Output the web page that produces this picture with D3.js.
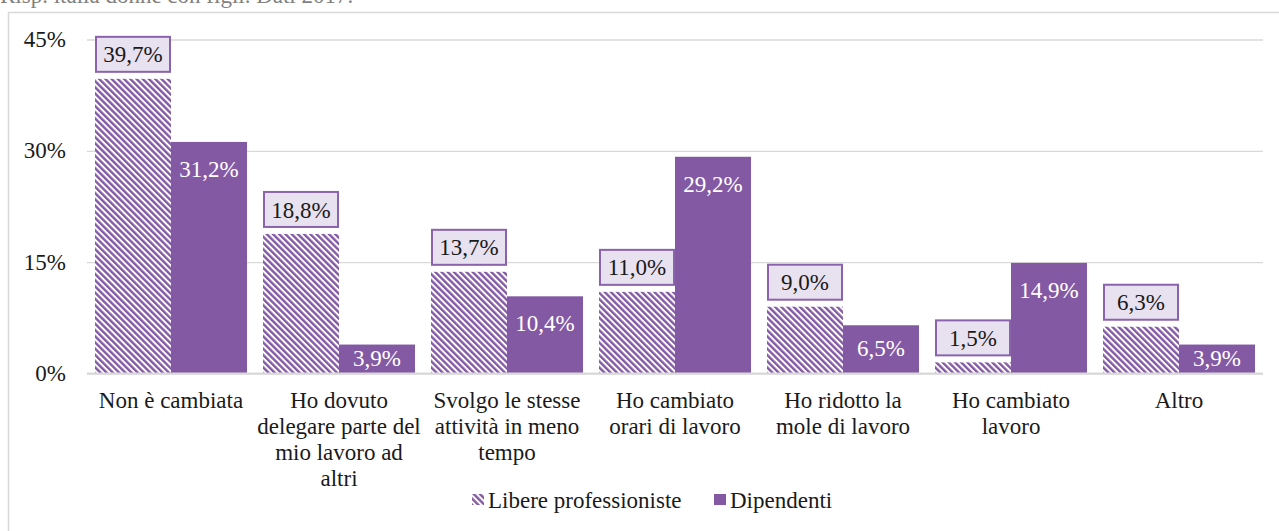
<!DOCTYPE html>
<html>
<head>
<meta charset="utf-8">
<script src="https://cdn.jsdelivr.net/npm/d3@7"></script>
</head>
<body style="margin:0">
<script>
// Data

const categories = [
  ["Non è cambiata"],
  ["Ho dovuto", "delegare parte del", "mio lavoro ad", "altri"],
  ["Svolgo le stesse", "attività in meno", "tempo"],
  ["Ho cambiato", "orari di lavoro"],
  ["Ho ridotto la", "mole di lavoro"],
  ["Ho cambiato", "lavoro"],
  ["Altro"],
];
const seriesNames = ["Libere professioniste", "Dipendenti"];
const libere = [39.7, 18.8, 13.7, 11.0, 9.0, 1.5, 6.3];
const dipendenti = [31.2, 3.9, 10.4, 29.2, 6.5, 14.9, 3.9];
const yTicks = [0, 15, 30, 45];
const titleText = "Risp. italia donne con figli. Dati 2017.";

// Core chart

const width = 1279;
const height = 531;
const margin = { top: 39.5, bottom: 157.5, left: 87, right: 16 };
const purple = "#8459a4";
const fontSize = 23;
const serifFont = (sel) => sel.style("font-family", `"Liberation Serif"`);

const it = d3.formatLocale({ decimal: ",", thousands: ".", grouping: [3], currency: ["", "€"] });
const fmt = (v) => it.format(".1f")(v) + "%";

const svg = d3
  .select("body")
  .append("svg")
  .attr("width", width)
  .attr("height", height)
  .attr("font-family", "Liberation Serif");

const defs = svg.append("defs");
const pattern = defs
  .append("pattern")
  .attr("id", "stripes")
  .attr("patternUnits", "userSpaceOnUse")
  .attr("width", 4.4)
  .attr("height", 4.4)
  .attr("patternTransform", "rotate(-45)");
pattern.append("rect").attr("width", 4.4).attr("height", 4.4).attr("fill", "#fff");
pattern.append("rect").attr("width", 2.4).attr("height", 4.4).attr("fill", purple);

// title (cut at the top in the source) and frame
svg
  .append("text")
  .attr("x", 0)
  .attr("y", 3)
  .attr("font-size", fontSize)
  .attr("fill", "#7f7f7f")
  .call(serifFont)
  .text(titleText);

svg
  .append("rect")
  .attr("x", 8.5)
  .attr("y", 12.5)
  .attr("width", 1300)
  .attr("height", 600)
  .attr("fill", "none")
  .attr("stroke", "#d9d9d9")
  .attr("stroke-width", 1.5);

const xScale = d3
  .scaleBand()
  .domain(d3.range(categories.length))
  .range([margin.left, width - margin.right]);

const xInner = d3
  .scaleBand()
  .domain(seriesNames)
  .range([8, xScale.bandwidth() - 8]);

const yScale = d3
  .scaleLinear()
  .domain([0, 45])
  .range([height - margin.bottom, margin.top]);

// gridlines + y axis
const yAxis = svg
  .append("g")
  .attr("transform", `translate(${margin.left}, 0)`)
  .call(
    d3
      .axisLeft(yScale)
      .tickValues(yTicks)
      .tickFormat((d) => d + "%")
      .tickSize(-(width - margin.left - margin.right))
      .tickPadding(21)
  );
yAxis.attr("font-family", "Liberation Serif").attr("font-size", fontSize);
yAxis.select(".domain").remove();
yAxis.selectAll("line").attr("stroke", "#d9d9d9").attr("stroke-width", 1.3);
yAxis
  .selectAll("text")
  .attr("fill", "#1a1a1a")
  .attr("dy", "0.3em")
  .call(serifFont);

const groups = svg
  .selectAll(".cat")
  .data(categories.map((c, i) => ({ i, lib: libere[i], dip: dipendenti[i] })))
  .enter()
  .append("g")
  .attr("transform", (d) => `translate(${xScale(d.i)}, 0)`);

// Libere professioniste bars
groups
  .append("rect")
  .attr("x", xInner(seriesNames[0]))
  .attr("width", xInner.bandwidth())
  .attr("y", (d) => yScale(d.lib))
  .attr("height", (d) => yScale(0) - yScale(d.lib))
  .attr("fill", "url(#stripes)");

// Dipendenti bars
groups
  .append("rect")
  .attr("x", xInner(seriesNames[1]))
  .attr("width", xInner.bandwidth())
  .attr("y", (d) => yScale(d.dip))
  .attr("height", (d) => yScale(0) - yScale(d.dip))
  .attr("fill", purple);

// boxed labels above the striped bars
groups
  .append("rect")
  .attr("x", xInner(seriesNames[0]) + 1)
  .attr("width", xInner.bandwidth() - 2)
  .attr("y", (d) => yScale(d.lib) - 42)
  .attr("height", 35)
  .attr("fill", "#e8e1ef")
  .attr("stroke", "#8a63ac")
  .attr("stroke-width", 2);

groups
  .append("text")
  .attr("x", xInner(seriesNames[0]) + xInner.bandwidth() / 2)
  .attr("y", (d) => yScale(d.lib) - 24.5)
  .attr("dy", "0.35em")
  .attr("text-anchor", "middle")
  .attr("font-size", fontSize)
  .attr("fill", "#1a1a1a")
  .call(serifFont)
  .text((d) => fmt(d.lib));

// white labels inside the solid bars
groups
  .append("text")
  .attr("x", xInner(seriesNames[1]) + xInner.bandwidth() / 2)
  .attr("y", (d) => {
    const top = yScale(d.dip);
    const bottom = yScale(0);
    return Math.min(top + 27, (top + bottom) / 2 - 1);
  })
  .attr("dy", "0.35em")
  .attr("text-anchor", "middle")
  .attr("font-size", fontSize)
  .attr("fill", "#fff")
  .call(serifFont)
  .text((d) => fmt(d.dip));

// baseline
svg
  .append("line")
  .attr("x1", margin.left)
  .attr("x2", width - margin.right)
  .attr("y1", yScale(0))
  .attr("y2", yScale(0))
  .attr("stroke", "#d9d9d9")
  .attr("stroke-width", 2);

// x axis labels
const xAxis = svg
  .append("g")
  .attr("transform", `translate(0, ${yScale(0)})`)
  .call(d3.axisBottom(xScale).tickSize(0).tickFormat(""));
xAxis.attr("font-family", "Liberation Serif").attr("font-size", fontSize);
xAxis.select(".domain").remove();
xAxis
  .selectAll(".tick")
  .append("text")
  .attr("text-anchor", "middle")
  .attr("fill", "#1a1a1a")
  .call(serifFont)
  .each(function (d) {
    d3.select(this)
      .selectAll("tspan")
      .data(categories[d])
      .enter()
      .append("tspan")
      .attr("x", 0)
      .attr("y", (l, j) => 34 + j * 26)
      .text((l) => l);
  });

// Legend

const legend = svg.append("g").attr("transform", "translate(472, 494)");
const legendItems = [
  { name: seriesNames[0], fill: "url(#stripes)", x: 0 },
  { name: seriesNames[1], fill: purple, x: 242 },
];
legend
  .selectAll("rect")
  .data(legendItems)
  .enter()
  .append("rect")
  .attr("x", (d) => d.x)
  .attr("y", 0)
  .attr("width", 12)
  .attr("height", 11)
  .attr("fill", (d) => d.fill);
legend
  .selectAll("text")
  .data(legendItems)
  .enter()
  .append("text")
  .attr("x", (d) => d.x + 16)
  .attr("y", 5.5)
  .attr("dy", "0.35em")
  .attr("font-size", fontSize)
  .attr("fill", "#1a1a1a")
  .call(serifFont)
  .text((d) => d.name);
</script>
</body>
</html>
